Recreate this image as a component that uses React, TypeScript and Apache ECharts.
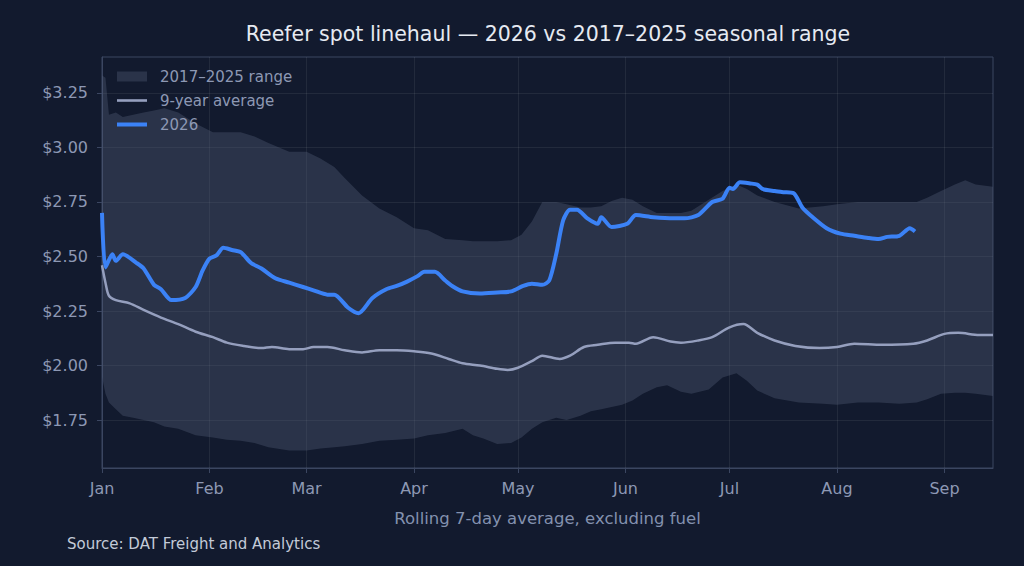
import React, { useEffect, useRef } from "react";
import * as echarts from "echarts";

// x values are day-of-year offsets from Jan 1 (0 = Jan 1)
const monthStartDays = [0, 31, 59, 90, 120, 151, 181, 212, 243];
const monthLabels = ["Jan", "Feb", "Mar", "Apr", "May", "Jun", "Jul", "Aug", "Sep"];
const yTicks = [1.75, 2.0, 2.25, 2.5, 2.75, 3.0, 3.25];

const bandDays = [0, 1, 2, 4, 6, 9, 12, 15, 18, 22, 27, 32, 36, 40, 44, 48, 54, 59, 63, 67, 70, 75, 80, 85, 90, 94, 99, 104, 107, 110, 114, 118, 121, 124, 127, 131, 134, 138, 141, 144, 147, 150, 153, 156, 160, 163, 167, 170, 175, 179, 183, 186, 189, 194, 201, 208, 212, 218, 224, 230, 235, 238, 242, 246, 249, 252, 257];
const bandUpper = [3.33, 3.32, 3.15, 3.16, 3.14, 3.15, 3.16, 3.17, 3.18, 3.16, 3.11, 3.07, 3.07, 3.07, 3.05, 3.02, 2.98, 2.98, 2.95, 2.91, 2.86, 2.78, 2.72, 2.68, 2.63, 2.62, 2.58, 2.575, 2.57, 2.57, 2.57, 2.575, 2.6, 2.66, 2.75, 2.75, 2.74, 2.725, 2.725, 2.73, 2.755, 2.77, 2.76, 2.73, 2.7, 2.7, 2.7, 2.71, 2.76, 2.8, 2.83, 2.81, 2.78, 2.75, 2.72, 2.73, 2.74, 2.75, 2.75, 2.75, 2.75, 2.77, 2.8, 2.83, 2.85, 2.83, 2.82];
const bandLower = [1.95, 1.87, 1.83, 1.8, 1.77, 1.76, 1.75, 1.74, 1.72, 1.71, 1.68, 1.67, 1.66, 1.655, 1.645, 1.625, 1.61, 1.61, 1.62, 1.625, 1.63, 1.64, 1.655, 1.66, 1.665, 1.68, 1.69, 1.71, 1.68, 1.665, 1.64, 1.645, 1.67, 1.71, 1.74, 1.76, 1.75, 1.77, 1.79, 1.8, 1.81, 1.82, 1.84, 1.87, 1.9, 1.91, 1.88, 1.87, 1.89, 1.945, 1.965, 1.93, 1.885, 1.85, 1.83, 1.825, 1.82, 1.83, 1.83, 1.825, 1.83, 1.845, 1.87, 1.875, 1.875, 1.87, 1.86];

const avgDays = [0, 1, 2, 4, 8, 12, 17, 22, 27, 32, 36, 41, 46, 49, 54, 58, 61, 65, 70, 75, 80, 85, 90, 95, 100, 104, 109, 114, 117, 120, 124, 127, 132, 135, 139, 143, 148, 152, 154, 159, 164, 167, 172, 176, 181, 185, 189, 194, 200, 207, 212, 217, 225, 234, 238, 243, 247, 253, 257];
const avgValues = [2.46, 2.38, 2.32, 2.3, 2.285, 2.255, 2.22, 2.19, 2.155, 2.13, 2.105, 2.09, 2.08, 2.085, 2.075, 2.075, 2.085, 2.085, 2.07, 2.06, 2.07, 2.07, 2.065, 2.055, 2.03, 2.01, 2.0, 1.985, 1.98, 1.99, 2.02, 2.045, 2.03, 2.045, 2.085, 2.095, 2.105, 2.105, 2.1, 2.13, 2.11, 2.105, 2.115, 2.13, 2.175, 2.19, 2.15, 2.115, 2.09, 2.08, 2.085, 2.1, 2.095, 2.1, 2.115, 2.145, 2.15, 2.14, 2.14];

const y2026Days = [0, 1, 3, 4, 6, 10, 12, 15, 17, 20, 24, 27, 29, 31, 33, 35, 37.5, 40, 43, 46, 50, 54, 58, 61, 65, 67, 71, 74, 78, 82, 85, 88, 91, 93, 96, 99, 101, 104, 109, 114, 118, 121.5, 124, 127, 129, 131, 133, 135, 137, 140, 143, 144, 147, 151.5, 154, 159, 165, 168, 172, 176, 179, 181, 182, 184, 187, 189, 190.5, 194, 196.5, 199.5, 202, 205, 209, 213, 217, 221, 224, 226.5, 230, 233, 234.5];
const y2026Values = [2.7, 2.45, 2.51, 2.48, 2.51, 2.47, 2.445, 2.37, 2.35, 2.3, 2.31, 2.36, 2.435, 2.49, 2.505, 2.54, 2.53, 2.52, 2.47, 2.445, 2.4, 2.38, 2.36, 2.345, 2.325, 2.325, 2.265, 2.24, 2.31, 2.35, 2.365, 2.385, 2.41, 2.43, 2.43, 2.39, 2.365, 2.34, 2.33, 2.335, 2.34, 2.365, 2.375, 2.37, 2.39, 2.51, 2.665, 2.715, 2.715, 2.675, 2.65, 2.68, 2.635, 2.65, 2.69, 2.68, 2.675, 2.675, 2.69, 2.75, 2.765, 2.815, 2.81, 2.84, 2.835, 2.83, 2.81, 2.8, 2.795, 2.79, 2.725, 2.68, 2.63, 2.605, 2.595, 2.585, 2.58, 2.59, 2.595, 2.63, 2.615];

const BG = "#121a2e";
const BAND = "rgba(87,97,123,0.36)";
const AVG = "#959fbe";
const BLUE = "#3b82f6";
const AXIS = "#3b4661";
const TICKTXT = "#8d98b4";
const FONT = "DejaVu Sans";

export default function App() {
  const ref = useRef<HTMLDivElement>(null);
  useEffect(() => {
    if (!ref.current) return;
    const chart = echarts.init(ref.current, undefined, { renderer: "svg" });
    const bandData = bandDays.map((d, i) => [d, bandLower[i], bandUpper[i]]);
    const avgPairs = avgDays.map((d, i) => [d, avgValues[i]]);
    const pairs2026 = y2026Days.map((d, i) => [d, y2026Values[i]]);
    chart.setOption({
      animation: false,
      backgroundColor: BG,
      textStyle: { fontFamily: FONT },
      title: {
        text: "Reefer spot linehaul — 2026 vs 2017–2025 seasonal range",
        left: 543,
        top: 18,
        textAlign: "center",
        textStyle: { color: "#e6eaf2", fontSize: 20.5, fontWeight: "normal", fontFamily: FONT },
      },
      graphic: [
        {
          type: "text",
          left: 67,
          top: 536,
          style: { text: "Source: DAT Freight and Analytics", fill: "#c3cad8", fontSize: 15, fontFamily: FONT },
        },
      ],
      legend: {
        orient: "vertical",
        left: 112,
        top: 64,
        itemWidth: 30,
        itemHeight: 10,
        itemGap: 9,
        textStyle: { color: TICKTXT, fontSize: 15, fontFamily: FONT, lineHeight: 15, padding: [0, 0, 0, 8] },
        data: [
          { name: "2017–2025 range", icon: "rect" },
          { name: "9-year average", icon: "path://M0,0L30,0L30,2.6L0,2.6Z" },
          { name: "2026", icon: "path://M0,0L30,0L30,4L0,4Z" },
        ],
      },
      grid: {
        left: 102,
        right: 31,
        top: 57,
        bottom: 98,
        show: true,
        borderColor: AXIS,
        borderWidth: 1,
        backgroundColor: "transparent",
      },
      xAxis: {
        type: "value",
        min: 0,
        max: 257,
        name: "Rolling 7-day average, excluding fuel",
        nameLocation: "middle",
        nameGap: 42,
        nameTextStyle: { color: "#8391ae", fontSize: 16.5, fontFamily: FONT },
        axisLine: { show: true, lineStyle: { color: AXIS, width: 1 } },
        axisTick: { show: true, length: 5, lineStyle: { color: AXIS }, customValues: monthStartDays },
        axisLabel: {
          color: TICKTXT,
          fontSize: 16,
          margin: 12,
          customValues: monthStartDays,
          formatter: (v: number) => {
            const i = monthStartDays.indexOf(Math.round(v));
            return i >= 0 ? monthLabels[i] : "";
          },
        },
        splitLine: { show: true, lineStyle: { color: "rgba(255,255,255,0.07)", width: 1 } },
      },
      yAxis: {
        type: "value",
        min: 1.53,
        max: 3.415,
        axisLine: { show: true, lineStyle: { color: AXIS, width: 1 } },
        axisTick: { show: true, length: 5, lineStyle: { color: AXIS }, customValues: yTicks },
        axisLabel: {
          color: TICKTXT,
          fontSize: 16,
          margin: 14,
          customValues: yTicks,
          formatter: (v: number) => "$" + v.toFixed(2),
        },
        splitLine: { show: true, lineStyle: { color: "rgba(255,255,255,0.07)", width: 1 } },
      },
      series: [
        {
          name: "2017–2025 range",
          type: "custom",
          data: bandData,
          encode: { x: 0, y: [1, 2] },
          itemStyle: { color: BAND },
          silent: true,
          z: 1,
          renderItem: (params: any, api: any) => {
            if (params.dataIndex !== 0) return null;
            const top = bandData.map((p) => api.coord([p[0], p[2]]));
            const bottom = bandData.map((p) => api.coord([p[0], p[1]])).reverse();
            return {
              type: "polygon",
              shape: { points: top.concat(bottom) },
              style: { fill: BAND },
            };
          },
        },
        {
          name: "9-year average",
          type: "line",
          data: avgPairs,
          symbol: "none",
          smooth: 0.3,
          itemStyle: { color: AVG },
          lineStyle: { color: AVG, width: 2.5 },
          z: 3,
        },
        {
          name: "2026",
          type: "line",
          data: pairs2026,
          symbol: "none",
          smooth: 0.25,
          itemStyle: { color: BLUE },
          lineStyle: { color: BLUE, width: 4 },
          z: 4,
        },
      ],
    });
    return () => chart.dispose();
  }, []);
  return (
    <div
      ref={ref}
      style={{ position: "fixed", left: 0, top: 0, width: 1024, height: 566 }}
    />
  );
}
